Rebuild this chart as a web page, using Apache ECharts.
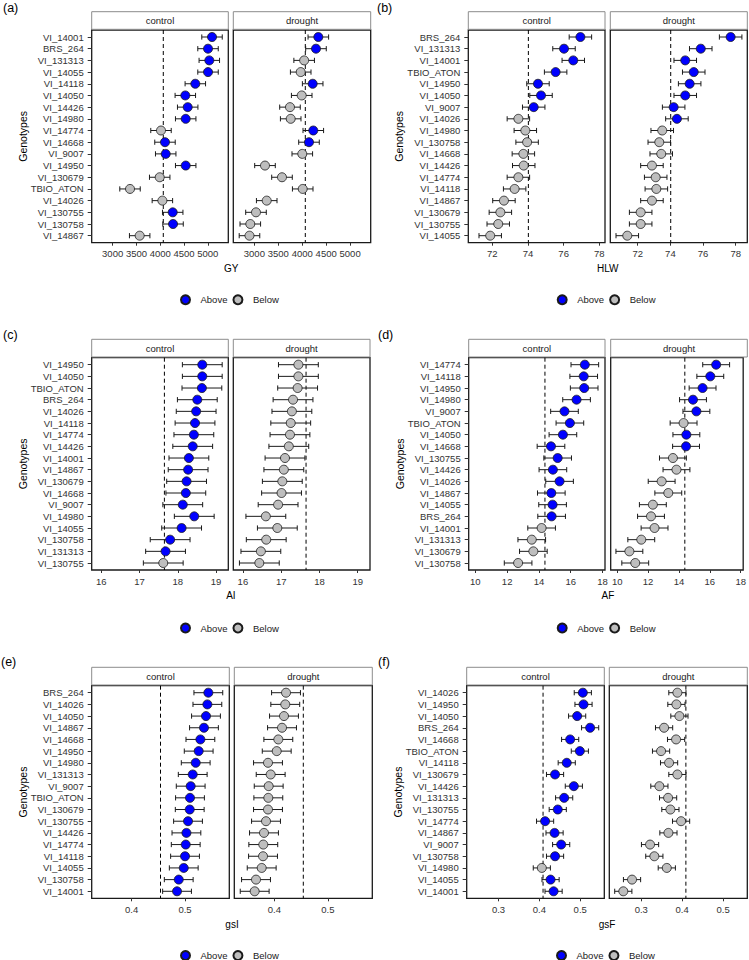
<!DOCTYPE html>
<html><head><meta charset="utf-8">
<script src="https://cdn.jsdelivr.net/npm/echarts@6/dist/echarts.min.js"></script>
<style>html,body{margin:0;padding:0;background:#fff}#chart{width:749px;height:960px}</style>
</head><body><div id="chart"></div>
<script>
// ---------------- DATA ----------------
const legendNames = ['Above', 'Below'];
const facetNames = ['control', 'drought'];

// (a) GY
const genoGY = ['VI_14001','BRS_264','VI_131313','VI_14055','VI_14118','VI_14050','VI_14426','VI_14980','VI_14774','VI_14668','VI_9007','VI_14950','VI_130679','TBIO_ATON','VI_14026','VI_130755','VI_130758','VI_14867'];
const gyControl = [5088,5004,5031,5004,4737,4527,4577,4535,4016,4100,4115,4535,3989,3365,4045,4262,4269,3568];
const gyDrought = [4336,4287,4040,3968,4218,3989,3744,3759,4231,4141,4001,3222,3577,4010,3258,3034,2915,2898];
const gyRef = 4064;
const gySE = [215, 215];
const gyTicks = [3000,3500,4000,4500,5000];
const gyAxis = [[2560, 5430], [2560, 5430]];

// (b) HLW
const genoHLW = ['BRS_264','VI_131313','VI_14001','TBIO_ATON','VI_14950','VI_14050','VI_9007','VI_14026','VI_14980','VI_130758','VI_14668','VI_14426','VI_14774','VI_14118','VI_14867','VI_130679','VI_130755','VI_14055'];
const hlwControl = [76.94,76.02,76.54,75.55,74.56,74.73,74.32,73.46,73.85,73.95,73.74,73.76,73.46,73.25,72.65,72.45,72.33,71.88];
const hlwDrought = [77.69,75.86,74.91,75.43,75.18,74.91,74.20,74.40,73.50,73.32,73.44,72.87,73.10,73.14,72.87,72.18,72.18,71.36];
const hlwRef = 74.02;
const hlwSE = [0.63, 0.69];
const hlwTicks = [72,74,76,78];
const hlwAxis = [[70.65, 78.32], [70.32, 78.71]];

// (c) AI
const genoAI = ['VI_14950','VI_14050','TBIO_ATON','BRS_264','VI_14026','VI_14118','VI_14774','VI_14426','VI_14001','VI_14867','VI_130679','VI_14668','VI_9007','VI_14980','VI_14055','VI_130758','VI_131313','VI_130755'];
const aiControl = [18.64,18.64,18.63,18.51,18.48,18.45,18.42,18.39,18.29,18.27,18.23,18.21,18.13,18.43,18.10,17.80,17.68,17.62];
const aiDrought = [17.45,17.45,17.43,17.31,17.28,17.25,17.23,17.20,17.10,17.07,17.03,17.01,16.92,16.60,16.90,16.61,16.47,16.43];
const aiRef = 17.65;
const aiSE = [0.52, 0.52];
const aiTicks = [16,17,18,19];
const aiAxis = [[15.75, 19.32], [15.75, 19.32]];

// (d) AF
const genoAF = ['VI_14774','VI_14118','VI_14950','VI_14980','VI_9007','TBIO_ATON','VI_14050','VI_14668','VI_130755','VI_14426','VI_14026','VI_14867','VI_14055','BRS_264','VI_14001','VI_131313','VI_130679','VI_130758'];
const afControl = [16.89,16.82,16.85,16.37,15.61,15.95,15.51,14.76,15.18,14.88,15.30,14.78,14.86,14.80,14.17,13.55,13.65,12.69];
const afDrought = [16.41,16.03,15.53,14.91,15.13,14.30,14.48,14.46,13.61,13.84,12.88,13.31,12.31,12.19,12.42,11.56,10.79,11.17];
const afRef = 14.38;
const afSE = [0.87, 0.87];
const afTicks = [10,12,14,16,18];
const afAxis = [[9.58, 18.16], [9.58, 18.16]];

// (e) gsI
const genoGSI = ['BRS_264','VI_14026','VI_14050','VI_14867','VI_14668','VI_14950','VI_14980','VI_131313','VI_9007','TBIO_ATON','VI_130679','VI_130755','VI_14426','VI_14774','VI_14118','VI_14055','VI_130758','VI_14001'];
const gsiControl = [0.5437,0.5419,0.5393,0.5355,0.5288,0.5256,0.5200,0.5144,0.5106,0.5093,0.5088,0.5056,0.5026,0.5013,0.5000,0.4976,0.4882,0.4850];
const gsiDrought = [0.4217,0.4203,0.4179,0.4142,0.4073,0.4043,0.3880,0.3930,0.3893,0.3886,0.3880,0.3843,0.3805,0.3792,0.3787,0.3762,0.3656,0.3631];
const gsiRef = 0.454;
const gsiSE = [0.027, 0.027];
const gsiTicks = [0.4,0.5];
const gsiAxis = [[0.325, 0.583], [0.325, 0.583]];

// (f) gsF
const genoGSF = ['VI_14026','VI_14950','VI_14050','BRS_264','VI_14668','TBIO_ATON','VI_14118','VI_130679','VI_14426','VI_131313','VI_130755','VI_14774','VI_14867','VI_9007','VI_130758','VI_14980','VI_14055','VI_14001'];
const gsfControl = [0.5064,0.5081,0.4925,0.5243,0.4754,0.4991,0.4670,0.4384,0.4844,0.4607,0.4450,0.4140,0.4372,0.4534,0.4384,0.4060,0.4274,0.4348];
const gsfDrought = [0.3883,0.3859,0.3932,0.3558,0.3851,0.3484,0.3680,0.3883,0.3443,0.3656,0.3712,0.3973,0.3664,0.3215,0.3320,0.3624,0.2775,0.2562];
const gsfRef = 0.409;
const gsfSE = [0.021, 0.021];
const gsfTicks = [0.3,0.4,0.5];
const gsfAxis = [[0.222, 0.559], [0.222, 0.559]];

// ---------------- LAYOUT ----------------
const FONT = '"Liberation Sans", Arial, Helvetica, sans-serif';
const rowA = {strip: 11.7, top: 30, bottom: 242.7, tagY: 8, legendY: 299.3, titleY: 268};
const rowC = {strip: 339.3, top: 357.7, bottom: 570, tagY: 335, legendY: 627.5, titleY: 595.5};
const rowE = {strip: 667.3, top: 685.7, bottom: 898.3, tagY: 661.7, legendY: 955, titleY: 924.5};

const panels = [
  {tag:'(a)', title:'GY', geno:genoGY, vals:[gyControl, gyDrought], ref:gyRef, se:gySE, ticks:gyTicks, ext:gyAxis,
   row:rowA, tagX:3, fx:[[91.7,228.3],[233.3,370.7]], legendLeft:180},
  {tag:'(b)', title:'HLW', geno:genoHLW, vals:[hlwControl, hlwDrought], ref:hlwRef, se:hlwSE, ticks:hlwTicks, ext:hlwAxis,
   row:rowA, tagX:377, fx:[[468.3,605],[610.3,747.3]], legendLeft:556.7},
  {tag:'(c)', title:'AI', geno:genoAI, vals:[aiControl, aiDrought], ref:aiRef, se:aiSE, ticks:aiTicks, ext:aiAxis,
   row:rowC, tagX:3, fx:[[91.7,228.3],[233.3,370]], legendLeft:180},
  {tag:'(d)', title:'AF', geno:genoAF, vals:[afControl, afDrought], ref:afRef, se:afSE, ticks:afTicks, ext:afAxis,
   row:rowC, tagX:378, fx:[[468.7,605],[610.7,747.3]], legendLeft:556.7},
  {tag:'(e)', title:'gsI', geno:genoGSI, vals:[gsiControl, gsiDrought], ref:gsiRef, se:gsiSE, ticks:gsiTicks, ext:gsiAxis,
   row:rowE, tagX:1, fx:[[91.7,229.3],[234.3,372.3]], legendLeft:180},
  {tag:'(f)', title:'gsF', geno:genoGSF, vals:[gsfControl, gsfDrought], ref:gsfRef, se:gsfSE, ticks:gsfTicks, ext:gsfAxis,
   row:rowE, tagX:378, fx:[[466.7,604.3],[609.3,747.3]], legendLeft:556}
];

const Y_MIN = -0.6, Y_MAX = 17.6;
const BLUE = '#0000FF', GREY = '#BEBEBE';
const TXT = '#333333';

function errRender(params, api) {
  const lo = api.coord([api.value(0), api.value(2)]);
  const hi = api.coord([api.value(1), api.value(2)]);
  const y = lo[1], c = 2.6;
  const st = {stroke: '#1a1a1a', lineWidth: 1, fill: null};
  return {type: 'group', children: [
    {type: 'line', shape: {x1: lo[0], y1: y, x2: hi[0], y2: y}, style: st},
    {type: 'line', shape: {x1: lo[0], y1: y - c, x2: lo[0], y2: y + c}, style: st},
    {type: 'line', shape: {x1: hi[0], y1: y - c, x2: hi[0], y2: y + c}, style: st}
  ]};
}
function refRender(params, api) {
  const p1 = api.coord([api.value(0), api.value(1)]);
  const p2 = api.coord([api.value(0), api.value(2)]);
  return {type: 'line', shape: {x1: p1[0], y1: p1[1], x2: p2[0], y2: p2[1]},
    style: {stroke: '#000', lineWidth: 1, lineDash: [4, 3], fill: null}};
}

const grid = [], xAxis = [], yAxis = [], series = [], graphic = [], legend = [];
panels.forEach((p, pi) => {
  const r = p.row;
  const idx = p.geno.map((g, i) => i);
  p.fx.forEach((f, fi) => {
    const gi = grid.length;
    grid.push({left: f[0], top: r.top, width: f[1] - f[0], height: r.bottom - r.top,
      show: true, borderColor: '#1a1a1a', borderWidth: 1.3, backgroundColor: 'transparent'});
    xAxis.push({gridIndex: gi, type: 'value', position: 'bottom', min: p.ext[fi][0], max: p.ext[fi][1],
      axisLine: {show: false, onZero: false}, splitLine: {show: false},
      axisTick: {show: true, length: 3, customValues: p.ticks, lineStyle: {color: TXT, width: 1}},
      axisLabel: {customValues: p.ticks, formatter: v => String(v), color: TXT, fontSize: 9.5, fontFamily: FONT, margin: 6}});
    const isCtl = fi === 0;
    yAxis.push({gridIndex: gi, type: 'value', position: 'left', min: Y_MIN, max: Y_MAX, inverse: true,
      axisLine: {show: false, onZero: false}, splitLine: {show: false},
      axisTick: {show: isCtl, length: 4, customValues: idx, lineStyle: {color: TXT, width: 1}},
      axisLabel: {show: isCtl, customValues: idx, formatter: v => p.geno[Math.round(v)] || '',
        color: TXT, fontSize: 9.5, fontFamily: FONT, margin: 8}});
    const vals = p.vals[fi];
    const se = p.se[fi];
    series.push({type: 'custom', xAxisIndex: gi, yAxisIndex: gi, z: 1, silent: true,
      renderItem: refRender, encode: {x: 0, y: [1, 2]}, data: [[p.ref, Y_MIN, Y_MAX]]});
    series.push({type: 'custom', xAxisIndex: gi, yAxisIndex: gi, z: 2, silent: true,
      renderItem: errRender, encode: {x: [0, 1], y: 2},
      data: vals.map((v, i) => [v - se, v + se, i])});
    series.push({type: 'scatter', name: 'Above', xAxisIndex: gi, yAxisIndex: gi, z: 3,
      symbol: 'circle', symbolSize: 9,
      itemStyle: {color: BLUE, borderColor: '#1a1a1a', borderWidth: 0.8, opacity: 1},
      data: vals.map((v, i) => [v, i]).filter(d => d[0] > p.ref)});
    series.push({type: 'scatter', name: 'Below', xAxisIndex: gi, yAxisIndex: gi, z: 3,
      symbol: 'circle', symbolSize: 9,
      itemStyle: {color: GREY, borderColor: '#1a1a1a', borderWidth: 0.8, opacity: 1},
      data: vals.map((v, i) => [v, i]).filter(d => d[0] <= p.ref)});
    // strip
    graphic.push({type: 'rect', shape: {x: f[0], y: r.strip, width: f[1] - f[0], height: r.top - r.strip - 0.7},
      style: {fill: '#fff', stroke: '#8c8c8c', lineWidth: 1}, z: 1});
    graphic.push({type: 'text', x: (f[0] + f[1]) / 2, y: (r.strip + r.top) / 2,
      style: {text: facetNames[fi], fill: '#1a1a1a', font: '9.5px ' + FONT, textAlign: 'center', textVerticalAlign: 'middle'}, z: 2});
  });
  // tag
  graphic.push({type: 'text', x: p.tagX, y: r.tagY,
    style: {text: p.tag, fill: '#000', font: '12.5px ' + FONT, textAlign: 'left', textVerticalAlign: 'middle'}});
  // x title
  graphic.push({type: 'text', x: (p.fx[0][0] + p.fx[1][1]) / 2, y: r.titleY,
    style: {text: p.title, fill: '#000', font: '10px ' + FONT, textAlign: 'center', textVerticalAlign: 'middle'}});
  // y title
  graphic.push({type: 'text', x: p.fx[0][0] - 69, y: (r.top + r.bottom) / 2, rotation: Math.PI / 2,
    style: {text: 'Genotypes', fill: '#000', font: '10.5px ' + FONT, textAlign: 'center', textVerticalAlign: 'middle'}});
  legend.push({data: legendNames, left: p.legendLeft, top: r.legendY - 5, icon: 'circle',
    itemWidth: 20, itemHeight: 9, itemGap: 5, padding: 0, selectedMode: false,
    textStyle: {fontSize: 9.5, color: '#1a1a1a', fontFamily: FONT}});
});

const chart = echarts.init(document.getElementById('chart'), null, {renderer: 'svg', width: 749, height: 960});
chart.setOption({
  animation: false,
  backgroundColor: '#fff',
  textStyle: {fontFamily: FONT},
  grid, xAxis, yAxis, series, graphic, legend
});
</script>
</body></html>
